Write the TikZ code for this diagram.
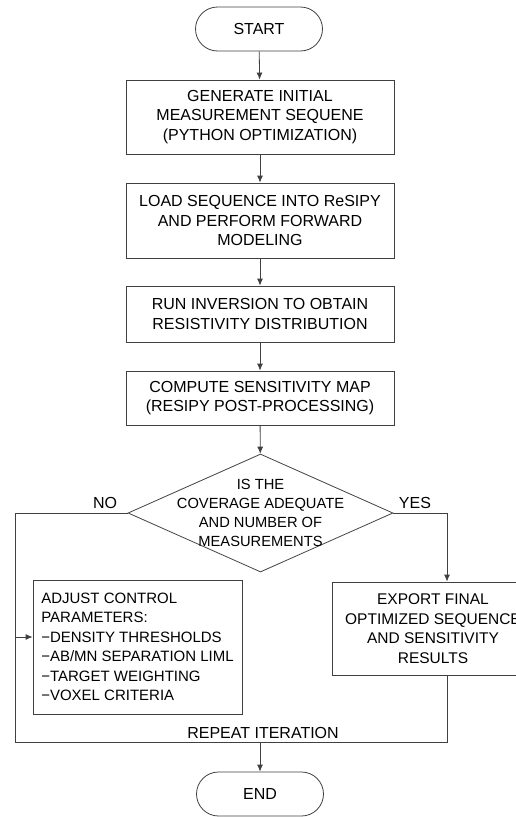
\documentclass[tikz,border=0pt]{standalone}
\usepackage{fontspec}
\setmainfont{Liberation Sans}
\usetikzlibrary{arrows.meta,shapes.geometric}

\begin{document}
\begin{tikzpicture}[x=1pt,y=-1pt,
		line/.style={draw=black!75, line width=0.8pt},
		arr/.style={line, -{Latex[length=7pt,width=6pt]}},
		box/.style={line, rectangle, minimum width=268pt, inner sep=0pt, align=center,
			font=\fontsize{16}{19.5}\selectfont},
		term/.style={line, rectangle, rounded corners=22pt, minimum width=127pt,
			minimum height=44pt, inner sep=0pt, font=\fontsize{16}{19.5}\selectfont},
		decision/.style={line, diamond, minimum width=265pt, minimum height=118pt, inner sep=0pt},
		lbl/.style={font=\fontsize{16}{19.5}\selectfont}]
		\useasboundingbox (0,0) rectangle (516,817);

		% main column
		\node[term] (start) at (259,29) {START};
		\node[box, minimum height=74pt] (gen) at (260,117) {GENERATE INITIAL\\MEASUREMENT SEQUENE\\(PYTHON OPTIMIZATION)};
		\node[box, minimum height=75pt] (load) at (260,220.5) {LOAD SEQUENCE INTO ReSIPY\\AND PERFORM FORWARD\\MODELING};
		\node[box, minimum height=56pt] (inv) at (260,314) {RUN INVERSION TO OBTAIN\\RESISTIVITY DISTRIBUTION};
		\node[box, minimum height=54pt] (sens) at (260,398) {COMPUTE SENSITIVITY MAP\\(RESIPY POST-PROCESSING)};

		% decision
		\node[decision] (dec) at (260.5,513) {};
		\node[align=center, font=\fontsize{14.7}{19}\selectfont] (dectext) at (dec) {IS THE\\COVERAGE ADEQUATE\\AND NUMBER OF\\MEASUREMENTS};

		% branches
		\node[line, rectangle, minimum width=209pt, minimum height=134pt, inner sep=0pt, align=left,
			font=\fontsize{15}{19.5}\selectfont] (adjust) at (137.5,647)
			{ADJUST CONTROL\\PARAMETERS:\\−DENSITY THRESHOLDS\\−AB/MN SEPARATION LIML\\−TARGET WEIGHTING\\−VOXEL CRITERIA};
		\node[line, rectangle, minimum width=202pt, minimum height=93pt, inner sep=0pt, align=center,
			font=\fontsize{15.5}{19.5}\selectfont] (export) at (433,628.5)
			{EXPORT FINAL\\OPTIMIZED SEQUENCE\\AND SENSITIVITY\\RESULTS};
		\node[term] (stop) at (260,794) {END};

		% loop corners
		\coordinate (noL) at (15,513);
		\coordinate (loopL) at (15,742);
		\coordinate (loopR) at (447,742);
		\coordinate (yesR) at (447,513);
		\coordinate (tap) at (15,637);
		\coordinate (merge) at (260,742);

		% arrows down the column
		\draw[arr] (start) -- (gen);
		\draw[arr] (gen) -- (load);
		\draw[arr] (load) -- (inv);
		\draw[arr] (inv) -- (sens);
		\draw[arr] (sens) -- (dec);

		% no / yes paths
		\draw[line] (dec.west) -- (noL) -- (loopL) -- (loopR) -- (loopR |- export.south);
		\draw[arr] (tap) -- (tap -| adjust.west);
		\draw[arr] (dec.east) -- (yesR) -- (yesR |- export.north);
		\draw[arr] (merge) -- (stop);

		% labels
		\node[lbl] (no) at (105,503) {NO};
		\node[lbl] (yes) at (415,503) {YES};
		\node[lbl] (repeat) at (263,733) {REPEAT ITERATION};
	\end{tikzpicture}
\end{document}
